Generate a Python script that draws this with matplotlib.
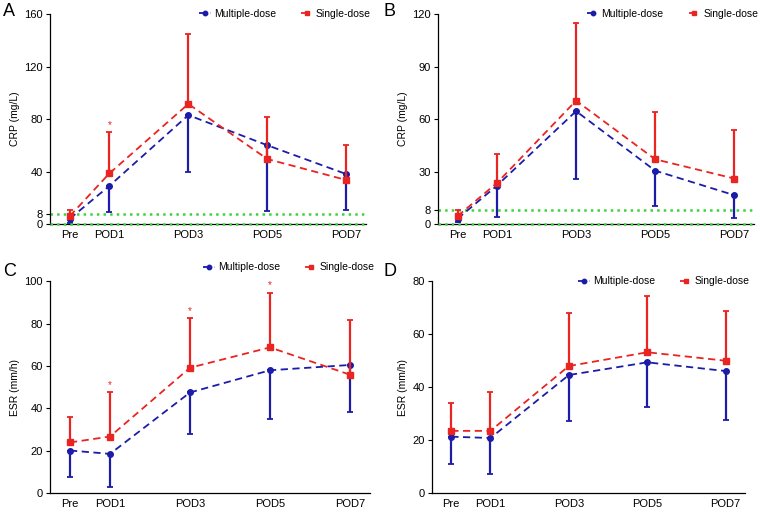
import matplotlib
matplotlib.use("Agg")
import matplotlib.pyplot as plt
import numpy as np

plt.rcParams['font.family'] = ['Liberation Sans', 'DejaVu Sans']

# time points
days = [0, 1, 3, 5, 7]
day_labels = ['Pre', 'POD1', 'POD3', 'POD5', 'POD7']

# panel A: CRP
a_multi = [4, 29, 83, 60, 38]
a_multi_low = [0.5, 9, 39.5, 10, 10.5]
a_single = [6, 38.5, 91.5, 49.5, 33.5]
a_single_up = [11, 70, 145, 81.5, 60]
a_star = [1]

# panel B: CRP
b_multi = [3, 22, 64.5, 30.5, 16.5]
b_multi_low = [1, 3.8, 26, 10.5, 3.4]
b_single = [4.5, 23.5, 70.5, 37, 26]
b_single_up = [7.8, 40, 115, 64, 53.5]
b_star = []

# panel C: ESR
c_multi = [20.1, 18.5, 47.5, 58, 60.5]
c_multi_low = [7.5, 2.7, 28, 35.2, 38.4]
c_single = [23.9, 26.7, 59.2, 68.8, 55.9]
c_single_up = [35.9, 47.5, 82.5, 94.6, 81.7]
c_star = [1, 3, 5]

# panel D: ESR
d_multi = [21.3, 20.8, 44.6, 49.4, 46.1]
d_multi_low = [11, 7.2, 27.1, 32.5, 27.7]
d_single = [23.5, 23.5, 48, 53.2, 50]
d_single_up = [33.9, 38.2, 68, 74.4, 68.7]
d_star = []

blue = '#1c1ca8'
red = '#ea2420'
green = '#3fd23f'

fig = plt.figure(figsize=(7.6, 5.12), dpi=100)


def panel(rect, letter, letter_pos, multi, mlow, single, sup, stars,
          ylim, yticks, ylabel, leg_y, ref_line):
    ax = fig.add_axes(rect)
    if ref_line:
        ax.axhline(8, color=green, ls=':', lw=1.8, zorder=1)
        ax.axhline(0, color=green, ls=':', lw=1.8, zorder=5, clip_on=False)
    m = np.array(multi)
    s = np.array(single)
    ax.errorbar(days, m, yerr=[m - np.array(mlow), np.zeros(5)], color=blue,
                ls=(0, (4, 2.5)), lw=1.3, marker='o', ms=4, capsize=2.5,
                elinewidth=1.6, capthick=1.3, label='Multiple-dose', zorder=3)
    ax.errorbar(days, s, yerr=[np.zeros(5), np.array(sup) - s], color=red,
                ls=(0, (4, 2.5)), lw=1.3, marker='s', ms=4, capsize=2.5,
                elinewidth=1.6, capthick=1.3, label='Single-dose', zorder=4)
    for i in stars:
        k = days.index(i)
        ax.text(i, sup[k] + (ylim[1] - ylim[0]) * 0.012, '*', color=red,
                ha='center', va='bottom', fontsize=7)
    ax.set_xlim(-0.5, 7.5)
    ax.set_ylim(*ylim)
    ax.set_yticks(yticks)
    ax.set_xticks(days)
    ax.set_xticklabels(day_labels)
    ax.tick_params(labelsize=8, length=3, width=0.8, pad=2)
    ax.tick_params(axis='x', length=0, pad=4)
    ax.set_ylabel(ylabel, fontsize=7.5, labelpad=3)
    for sp in ['top', 'right']:
        ax.spines[sp].set_visible(False)
    for sp in ['left', 'bottom']:
        ax.spines[sp].set_linewidth(0.9)
    h, l = ax.get_legend_handles_labels()
    h = [x[0] for x in h]
    ax.legend(h, l, loc='center right', bbox_to_anchor=(1.03, leg_y), ncol=2,
              frameon=False, fontsize=7.5, handlelength=1.1, handletextpad=0.3,
              columnspacing=2.4, borderpad=0, markerscale=0.8)
    fig.text(letter_pos[0], letter_pos[1], letter, fontsize=13, va='center',
             ha='left')
    return ax


panel([0.0658, 0.5625, 0.416, 0.41], 'A', (0.004, 1 - 12 / 512),
      a_multi, a_multi_low, a_single, a_single_up, a_star,
      (0, 160), [0, 8, 40, 80, 120, 160], 'CRP (mg/L)', 1.0, True)
panel([0.576, 0.5625, 0.416, 0.41], 'B', (0.504, 1 - 12 / 512),
      b_multi, b_multi_low, b_single, b_single_up, b_star,
      (0, 120), [0, 8, 30, 60, 90, 120], 'CRP (mg/L)', 1.0, True)
panel([0.0658, 0.037, 0.421, 0.4135], 'C', (0.004, 1 - 271 / 512),
      c_multi, c_multi_low, c_single, c_single_up, c_star,
      (0, 100), [0, 20, 40, 60, 80, 100], 'ESR (mm/h)', 1.066, False)
panel([0.568, 0.037, 0.4126, 0.4135], 'D', (0.504, 1 - 272 / 512),
      d_multi, d_multi_low, d_single, d_single_up, d_star,
      (0, 80), [0, 20, 40, 60, 80], 'ESR (mm/h)', 1.0, False)

fig.savefig('out.png', dpi=100)
